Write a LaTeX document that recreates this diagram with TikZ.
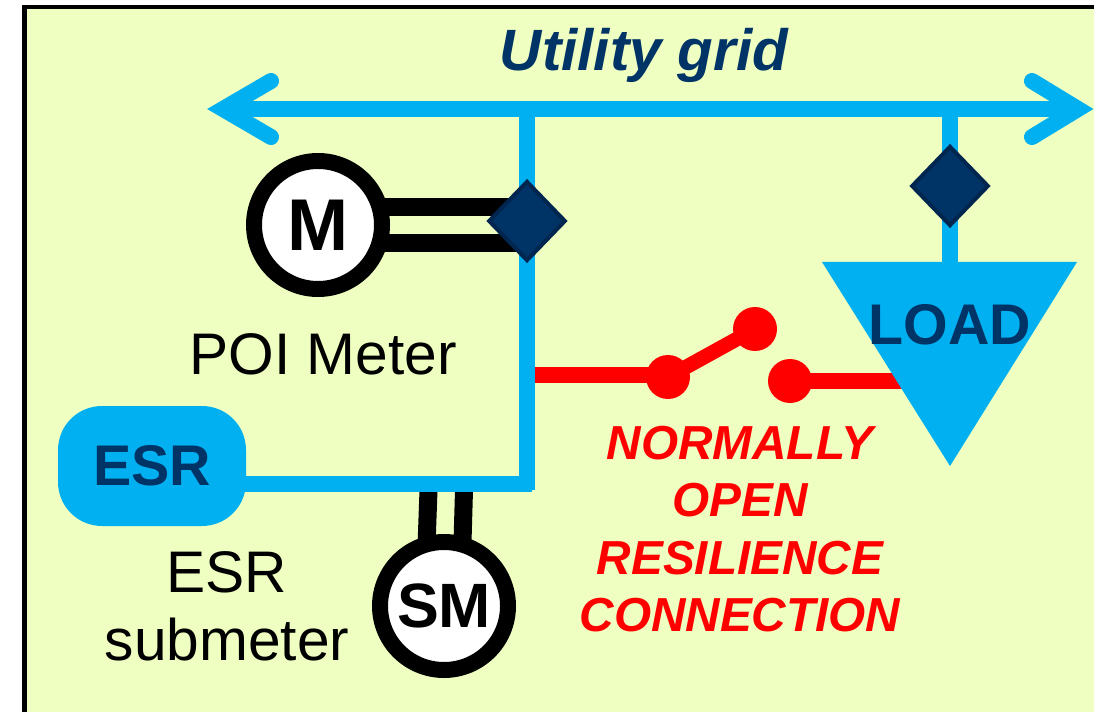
\documentclass[tikz,border=0pt]{standalone}
\usepackage{fontspec}
\setmainfont{Liberation Sans}
\usetikzlibrary{shapes.geometric}
\definecolor{panel}{HTML}{EFFFC1}
\definecolor{busblue}{HTML}{00B0F0}
\definecolor{navy}{HTML}{003366}
\definecolor{navyedge}{HTML}{002650}
\definecolor{redline}{HTML}{FF0000}
\pgfdeclarelayer{wires}
\pgfsetlayers{wires,main}
\tikzset{
  bus/.style={draw=busblue,line width=12pt},
  busarrow/.style={bus,line cap=round,line join=miter,miter limit=10},
  signal/.style={draw=black,line width=13.5pt},
  meter/.style={circle,draw=black,fill=white,line width=12pt,minimum size=96pt,inner sep=0pt,font=\bfseries},
  relay/.style={diamond,draw=navyedge,fill=navy,line width=3pt,minimum width=58pt,minimum height=60pt,inner sep=0pt,aspect=1},
  tie/.style={draw=redline,line width=12pt},
  dot/.style={circle,fill=redline,minimum size=33pt,inner sep=0pt},
  plain/.style={inner sep=0pt,font=\fontsize{44}{51}\selectfont,align=center},
  redtext/.style={inner sep=0pt,text=redline,font=\fontsize{35.8}{43}\selectfont\bfseries\itshape,align=center},
  navylabel/.style={inner sep=0pt,text=navy,font=\fontsize{43}{43}\selectfont\bfseries},
}
\begin{document}
\begin{tikzpicture}[x=0.75pt,y=-0.75pt]
\useasboundingbox (0,0) rectangle (1094,712);
\clip (0,0) rectangle (1094,712);
\begin{pgfonlayer}{wires}
\draw[black,fill=panel,line width=3.6pt] (24.5,7) rectangle (1110,730);
\end{pgfonlayer}
% free ends
\coordinate (lv) at (223,109);
\coordinate (rv) at (1078,109);
\coordinate (lu) at (271,81);
\coordinate (ld) at (271,137);
\coordinate (ru) at (1032,81);
\coordinate (rd) at (1032,137);
\coordinate (tapA) at (527,109);
\coordinate (tapB) at (950,109);
\coordinate (corner) at (527,490);
\coordinate (esrjoin) at (532,484);
\coordinate (loadtop) at (950,262);
\coordinate (tieA) at (535,375);
\coordinate (tieB) at (905,381);
\coordinate (smA) at (428.5,490);
\coordinate (smB) at (464,490);
\coordinate (smC) at (426,560);
\coordinate (smD) at (462,560);
% nodes
\node[relay] (relayA) at (527,221) {};
\node[relay] (relayB) at (950,186) {};
\node[meter,font=\fontsize{55}{55}\selectfont\bfseries] (M) at (318,225) {\raisebox{-1.2pt}{M}};
\node[meter,font=\fontsize{47}{47}\selectfont\bfseries] (SM) at (444,606) {SM};
\node[navylabel,fill=busblue,rounded corners=33pt,minimum width=141pt,minimum height=90pt] (ESR) at (152,466) {ESR};
\path[fill=busblue] (822,262) -- (1077,262) -- (950,466) -- cycle;
\node[navylabel] (LOAD) at (950,325) {LOAD};
\node[dot] (d1) at (668,377) {};
\node[dot] (d2) at (755,329) {};
\node[dot] (d3) at (790,381) {};
\node[inner sep=0pt,text=navy,font=\fontsize{43.7}{43.7}\selectfont\bfseries\itshape] (title) at (644,55) {Utility grid};
\node[plain] (poi) at (323,354) {POI Meter};
\node[plain] (esub) at (227,606) {ESR\\submeter};
\node[redtext] (nc) at (740,529) {NORMALLY\\OPEN\\RESILIENCE\\CONNECTION};
% connectors
\begin{pgfonlayer}{wires}
\draw[busarrow] (lu) -- (lv) -- (ld);
\draw[busarrow] (ru) -- (rv) -- (rd);
\draw[bus] (lv) -- (rv);
\draw[bus] (tapA) -- (corner);
\draw[bus] (tapB) -- (loadtop);
\draw[signal] ([yshift=13.5pt]M.center) -- ([yshift=10.5pt]relayA.center);
\draw[signal] ([yshift=-13.5pt]M.center) -- ([yshift=-16.5pt]relayA.center);
\draw[signal] (smA) -- (smC);
\draw[signal] (smB) -- (smD);
\draw[bus] (ESR.center |- esrjoin) -- (esrjoin);
\draw[tie] (tieA) -- (d1 |- tieA);
\draw[tie,line width=11pt] (d1.center) -- (d2.center);
\draw[tie] (d3.center) -- (tieB);
\end{pgfonlayer}
\end{tikzpicture}
\end{document}
